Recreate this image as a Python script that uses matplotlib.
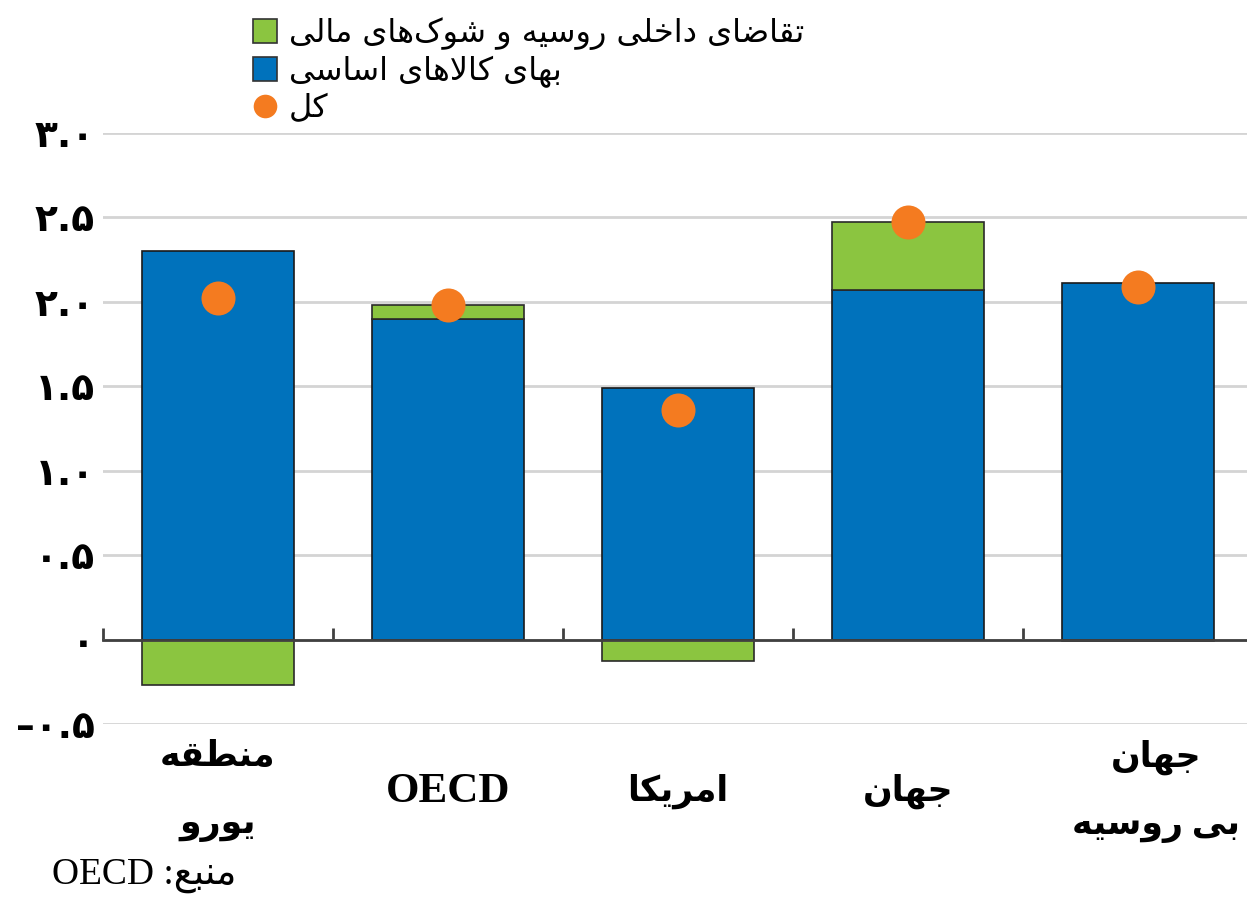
import matplotlib
matplotlib.use("Agg")
import matplotlib.pyplot as plt
from matplotlib.patches import Patch
from matplotlib.lines import Line2D
from matplotlib.ticker import FixedLocator

# ---------------------------------------------------------
# Data
# ---------------------------------------------------------
categories = ["منطقه\nیورو", "OECD", "امریکا", "جهان", "جهان\nبی روسیه"]
commodity = [2.30, 1.90, 1.49, 2.07, 2.11]        # blue
russia_shock = [-0.27, 0.08, -0.13, 0.40, -0.01]  # green
total = [2.02, 1.98, 1.36, 2.47, 2.09]            # orange dots

ytick_values = [-0.5, 0.0, 0.5, 1.0, 1.5, 2.0, 2.5, 3.0]
ytick_labels = ["–۰.۵", "۰", "۰.۵", "۱.۰", "۱.۵", "۲.۰", "۲.۵", "۳.۰"]

legend_labels = ["تقاضای داخلی روسیه و شوک‌های مالی", "بهای کالاهای اساسی", "کل"]
source_word = "منبع"
source_name = "OECD"

BLUE = "#0072BC"
GREEN = "#8BC540"
ORANGE = "#F47B20"

# ---------------------------------------------------------
# Minimal Persian shaping (matplotlib has no bidi / joining)
# forms: isolated, final, initial, medial
# ---------------------------------------------------------
FORMS = {
    "ا": ("\uFE8D", "\uFE8E", None, None),
    "آ": ("\uFE81", "\uFE82", None, None),
    "ب": ("\uFE8F", "\uFE90", "\uFE91", "\uFE92"),
    "پ": ("\uFB56", "\uFB57", "\uFB58", "\uFB59"),
    "ت": ("\uFE95", "\uFE96", "\uFE97", "\uFE98"),
    "ث": ("\uFE99", "\uFE9A", "\uFE9B", "\uFE9C"),
    "ج": ("\uFE9D", "\uFE9E", "\uFE9F", "\uFEA0"),
    "چ": ("\uFB7A", "\uFB7B", "\uFB7C", "\uFB7D"),
    "ح": ("\uFEA1", "\uFEA2", "\uFEA3", "\uFEA4"),
    "خ": ("\uFEA5", "\uFEA6", "\uFEA7", "\uFEA8"),
    "د": ("\uFEA9", "\uFEAA", None, None),
    "ذ": ("\uFEAB", "\uFEAC", None, None),
    "ر": ("\uFEAD", "\uFEAE", None, None),
    "ز": ("\uFEAF", "\uFEB0", None, None),
    "ژ": ("\uFB8A", "\uFB8B", None, None),
    "س": ("\uFEB1", "\uFEB2", "\uFEB3", "\uFEB4"),
    "ش": ("\uFEB5", "\uFEB6", "\uFEB7", "\uFEB8"),
    "ص": ("\uFEB9", "\uFEBA", "\uFEBB", "\uFEBC"),
    "ض": ("\uFEBD", "\uFEBE", "\uFEBF", "\uFEC0"),
    "ط": ("\uFEC1", "\uFEC2", "\uFEC3", "\uFEC4"),
    "ظ": ("\uFEC5", "\uFEC6", "\uFEC7", "\uFEC8"),
    "ع": ("\uFEC9", "\uFECA", "\uFECB", "\uFECC"),
    "غ": ("\uFECD", "\uFECE", "\uFECF", "\uFED0"),
    "ف": ("\uFED1", "\uFED2", "\uFED3", "\uFED4"),
    "ق": ("\uFED5", "\uFED6", "\uFED7", "\uFED8"),
    "ک": ("\uFB8E", "\uFB8F", "\uFB90", "\uFB91"),
    "گ": ("\uFB92", "\uFB93", "\uFB94", "\uFB95"),
    "ل": ("\uFEDD", "\uFEDE", "\uFEDF", "\uFEE0"),
    "م": ("\uFEE1", "\uFEE2", "\uFEE3", "\uFEE4"),
    "ن": ("\uFEE5", "\uFEE6", "\uFEE7", "\uFEE8"),
    "ه": ("\uFEE9", "\uFEEA", "\uFEEB", "\uFEEC"),
    "و": ("\uFEED", "\uFEEE", None, None),
    "ی": ("\uFBFC", "\uFBFD", "\uFBFE", "\uFBFF"),
}


def is_persian(text):
    return any(c in FORMS for c in text)


def shape(text):
    if not is_persian(text):
        return text
    out = []
    n = len(text)
    i = 0
    while i < n:
        c = text[i]
        if c not in FORMS:
            if c != "\u200c":
                out.append(c)
            i += 1
            continue
        prev = text[i - 1] if i > 0 else None
        join_prev = prev in FORMS and FORMS[prev][2] is not None
        if c == "ل" and i + 1 < n and text[i + 1] == "ا":
            out.append("\uFEFC" if join_prev else "\uFEFB")
            i += 2
            continue
        nxt = text[i + 1] if i + 1 < n else None
        iso, fin, ini, med = FORMS[c]
        join_next = ini is not None and nxt in FORMS
        if join_prev and join_next:
            out.append(med)
        elif join_prev:
            out.append(fin)
        elif join_next:
            out.append(ini)
        else:
            out.append(iso)
        i += 1
    return "".join(reversed(out))


def shape_lines(text):
    return "\n".join(shape(line) for line in text.split("\n"))


def main():
    plt.rcParams["font.family"] = ["DejaVu Sans"]

    fig = plt.figure(figsize=(12.47, 9.0), dpi=100)
    ax = fig.add_axes([0.0826, 0.1956, 0.922, 0.6567])

    x = list(range(len(categories)))
    width = 0.66

    # stacking: green sits on top of blue when positive, below zero when negative
    green_bottom = [b if g > 0 else 0 for b, g in zip(commodity, russia_shock)]

    ax.bar(x, commodity, width, color=BLUE, edgecolor="#1a1a1a", linewidth=1.2, zorder=3)
    ax.bar(x, russia_shock, width, bottom=green_bottom, color=GREEN,
           edgecolor="#2a2a2a", linewidth=1.2, zorder=3)
    ax.scatter(x, total, s=600, color=ORANGE, zorder=5, linewidths=0)

    ax.set_xlim(-0.5, len(categories) - 0.5)
    ax.set_ylim(-0.5, 3.0)

    # gridlines + Persian-digit tick labels
    ax.set_yticks(ytick_values)
    ax.set_yticklabels(ytick_labels, fontsize=27, fontweight="bold")
    ax.tick_params(axis="y", length=0, pad=6)
    ax.yaxis.grid(True, color="#d4d4d4", linewidth=2, zorder=0)
    ax.set_axisbelow(True)

    for side in ["top", "right", "left"]:
        ax.spines[side].set_visible(False)
    ax.spines["bottom"].set_position(("data", 0))
    ax.spines["bottom"].set_color("#404040")
    ax.spines["bottom"].set_linewidth(2)
    ax.spines["bottom"].set_zorder(4)

    # tick marks at category boundaries, pointing up
    ax.set_xticks([])
    ax.xaxis.set_minor_locator(FixedLocator([i - 0.5 for i in range(len(categories) + 1)]))
    ax.tick_params(axis="x", which="minor", direction="in", length=9, width=2,
                   color="#404040")

    # category labels under the plot (last one sits a bit right in the original)
    for xi, cat in zip(x, categories):
        size = 25 if is_persian(cat) else 31
        dx = 0.08 if xi == len(categories) - 1 else 0
        ax.text(xi + dx, -0.9, shape_lines(cat), ha="center", va="center",
                fontsize=size, fontweight="bold", linespacing=2.35,
                family=["Liberation Serif", "DejaVu Sans"])

    # legend
    handles = [
        Patch(facecolor=GREEN, edgecolor="#333333", linewidth=1.2),
        Patch(facecolor=BLUE, edgecolor="#333333", linewidth=1.2),
        Line2D([], [], marker="o", linestyle="none", markersize=17,
               markerfacecolor=ORANGE, markeredgewidth=0),
    ]
    fig.legend(handles, [shape(t) for t in legend_labels], loc="upper left",
               bbox_to_anchor=(0.193, 0.995), frameon=False, fontsize=23,
               handlelength=0.75, handleheight=0.75, handletextpad=0.35,
               labelspacing=0.18, borderaxespad=0)

    # source
    fig.text(0.042, 0.008, source_name + " :" + shape(source_word), fontsize=27,
             family=["Liberation Serif", "DejaVu Sans"], ha="left", va="bottom")

    fig.savefig("out.png", dpi=100)
    plt.close(fig)


if __name__ == "__main__":
    main()
